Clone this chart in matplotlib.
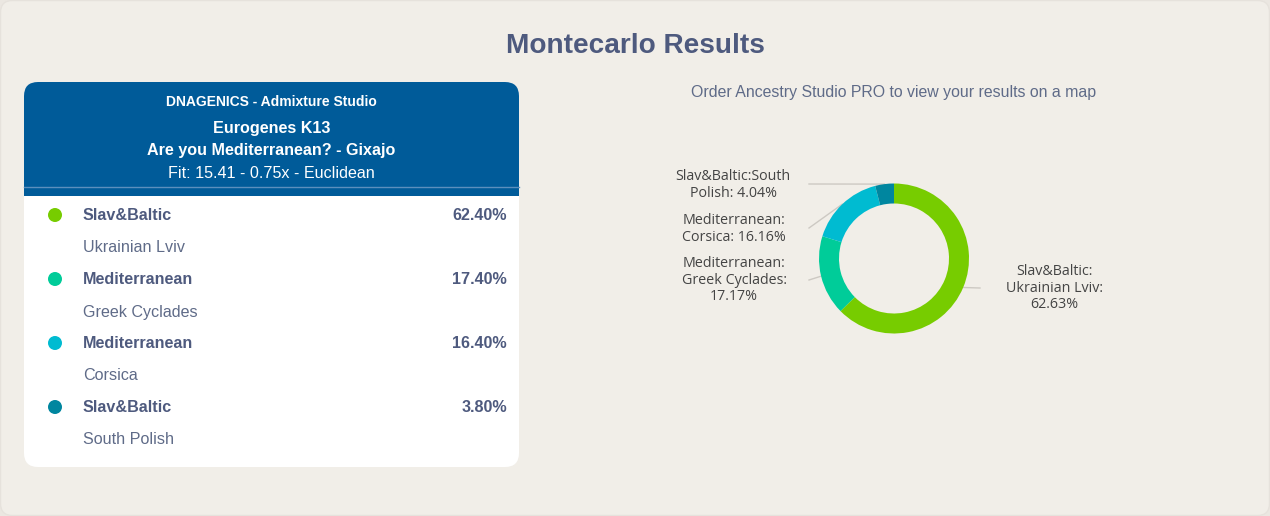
import numpy as np
import matplotlib.pyplot as plt
from matplotlib.patches import FancyBboxPatch, Rectangle, Circle

# data
groups = ['Slav&Baltic', 'Mediterranean', 'Mediterranean', 'Slav&Baltic']
regions = ['Ukrainian Lviv', 'Greek Cyclades', 'Corsica', 'South Polish']
list_pct = [62.40, 17.40, 16.40, 3.80]
pie_pct = [62.63, 17.17, 16.16, 4.04]
colors = ['#77cc00', '#00cc99', '#00bbd1', '#00869f']
pie_labels = ['Slav&Baltic:\nUkrainian Lviv:\n62.63%',
              'Mediterranean:\nGreek Cyclades:\n17.17%',
              'Mediterranean:\nCorsica: 16.16%',
              'Slav&Baltic:South\nPolish: 4.04%']

W, H = 1270, 516
BG = '#f1eee8'
TXT = '#4e5a7e'
SUB = '#5f6b88'
FONT = 'Liberation Sans'

fig = plt.figure(figsize=(W / 100, H / 100), dpi=100)
fig.patch.set_facecolor('#ebe7e1')
ax = fig.add_axes([0, 0, 1, 1])
ax.set_xlim(0, W)
ax.set_ylim(0, H)
ax.axis('off')

def Y(y):
    return H - y

# outer panel
ax.add_patch(FancyBboxPatch((0.5, 0.5), W - 1, H - 1, boxstyle='round,pad=0,rounding_size=12',
                            fc=BG, ec='#e6e2dc', lw=1, zorder=0.2))

ax.text(635, Y(46), 'Montecarlo Results', ha='center', va='center', fontsize=20.2,
        fontweight='bold', color=TXT, family=FONT)

# card
cx0, cx1, cy0, cy1 = 24, 519, 82, 467
ax.add_patch(FancyBboxPatch((cx0, Y(cy1)), cx1 - cx0, cy1 - cy0,
                            boxstyle='round,pad=0,rounding_size=14', fc='white', ec='none'))
# header: rounded top, square bottom
ax.add_patch(FancyBboxPatch((cx0, Y(196)), cx1 - cx0, 196 - cy0,
                            boxstyle='round,pad=0,rounding_size=14', fc='#005b99', ec='none'))
ax.add_patch(Rectangle((cx0, Y(196)), cx1 - cx0, 30, fc='#005b99', ec='none'))
ax.plot([cx0, cx1], [Y(187), Y(187)], color='#5b8fbd', lw=1)

hx = (cx0 + cx1) / 2
ax.text(hx, Y(102), 'DNAGENICS - Admixture Studio', ha='center', va='center', fontsize=10,
        fontweight='bold', color='white', family=FONT)
ax.text(hx, Y(128), 'Eurogenes K13', ha='center', va='center', fontsize=11.6,
        fontweight='bold', color='white', family=FONT)
ax.text(hx, Y(151), 'Are you Mediterranean? - Gixajo', ha='center', va='center', fontsize=11.6,
        fontweight='bold', color='white', family=FONT)
ax.text(hx, Y(174), 'Fit: 15.41 - 0.75x - Euclidean', ha='center', va='center', fontsize=11.6,
        color='white', family=FONT)

for i, (g, r, p, c) in enumerate(zip(groups, regions, list_pct, colors)):
    y = 216 + 64 * i
    ax.add_patch(Circle((55, Y(y - 1)), 7, fc=c, ec='none'))
    ax.text(83, Y(y), g, ha='left', va='center', fontsize=11.6, fontweight='bold',
            color=TXT, family=FONT)
    ax.text(507, Y(y), f'{p:.2f}%', ha='right', va='center', fontsize=11.6, fontweight='bold',
            color=TXT, family=FONT)
    ax.text(83, Y(y + 32), r, ha='left', va='center', fontsize=11.6,
            color=SUB, family=FONT)

# right side
ax.text(894, Y(93), 'Order Ancestry Studio PRO to view your results on a map', ha='center',
        va='center', fontsize=11.4, color='#5f6b88', family=FONT)

pc = (894, Y(258.5))
R = 75
wedges, _ = ax.pie(pie_pct, colors=colors, startangle=90, counterclock=False,
                   center=pc, radius=R, frame=True,
                   wedgeprops=dict(width=20, edgecolor='none', zorder=3))
ax.set_xlim(0, W)
ax.set_ylim(0, H)
ax.set_aspect('equal')
ax.axis('off')

# label positions (layout)
lab_pos = [(1054, 288), (734, 280), (734, 229), (733, 185)]
lead_end = [(980, 288), (809, 280), (809, 228), (809, 184)]
for w, lab, (lx, ly), (ex, ey) in zip(wedges, pie_labels, lab_pos, lead_end):
    ang = np.deg2rad((w.theta1 + w.theta2) / 2)
    sx = pc[0] + R * np.cos(ang)
    sy = pc[1] + R * np.sin(ang)
    ax.plot([sx, ex], [sy, Y(ey)], color='#cdc9c3', lw=1, zorder=2)
    ax.text(lx, Y(ly), lab, ha='center', va='center', fontsize=10.3, color='#444444',
            family='Open Sans', linespacing=1.15)

fig.savefig('out.png', dpi=100, facecolor=fig.get_facecolor())
